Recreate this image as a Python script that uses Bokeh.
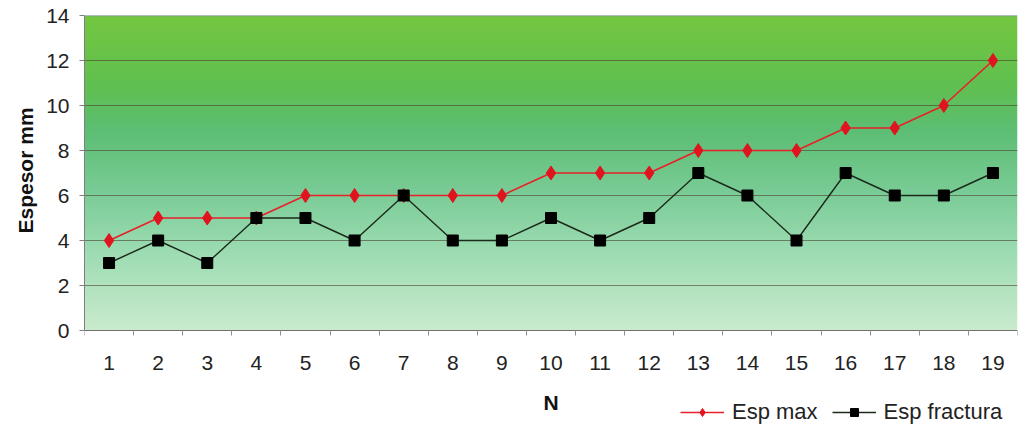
import numpy as np
from bokeh.plotting import figure
from bokeh.models import FixedTicker, Legend, LegendItem, Range1d, Span, Title
from bokeh.embed import file_html
from bokeh.resources import INLINE

n_values = list(range(1, 20))
esp_max = [4, 5, 5, 5, 6, 6, 6, 6, 6, 7, 7, 7, 8, 8, 8, 9, 9, 10, 12]
esp_fractura = [3, 4, 3, 5, 5, 4, 6, 4, 4, 5, 4, 5, 7, 6, 4, 7, 6, 6, 7]
y_ticks = [0, 2, 4, 6, 8, 10, 12, 14]

FONT = "Liberation Sans"
Y_MIN, Y_MAX = 0, 14
Y_LOW = -100 / 22.5  # extra room below the value axis for labels and legend

p = figure(width=1019, height=430, output_backend="svg", toolbar_location=None,
           x_range=Range1d(0.5, 19.5), y_range=Range1d(Y_LOW, Y_MAX),
           min_border_left=84, min_border_right=2, min_border_top=15, min_border_bottom=0)
p.background_fill_color = "white"
p.border_fill_color = "white"
p.outline_line_color = None

# gradient background (value area only)
stops_t = [0.0, 0.26, 0.45, 0.64, 0.78, 1.0]
stops_c = [(202, 235, 206), (155, 219, 177), (120, 203, 148), (92, 190, 115), (96, 192, 80), (116, 199, 64)]
N = 256
t = np.linspace(0, 1, N)
rgb = np.stack([np.interp(t, stops_t, [c[i] for c in stops_c]) for i in range(3)], axis=1).astype(np.uint8)
img = np.zeros((N, 2), dtype=np.uint32)
view = img.view(dtype=np.uint8).reshape((N, 2, 4))
for j in range(2):
    view[:, j, 0] = rgb[:, 0]
    view[:, j, 1] = rgb[:, 1]
    view[:, j, 2] = rgb[:, 2]
    view[:, j, 3] = 255
p.image_rgba(image=[img], x=0.5, y=Y_MIN, dw=19, dh=Y_MAX - Y_MIN, level="image")

# top border of the value area
p.add_layout(Span(location=Y_MAX, dimension="width", line_color="#7f8fa0", line_width=1.5))

# grid
p.xgrid.grid_line_color = None
p.ygrid.ticker = FixedTicker(ticks=y_ticks[1:-1])
p.ygrid.grid_line_color = "#4a4030"
p.ygrid.grid_line_alpha = 0.6
p.ygrid.grid_line_width = 1
p.ygrid.level = "underlay"

# lines
l1 = p.line(n_values, esp_max, line_color="#e8202a", line_width=1.6)
s1 = p.scatter(n_values, esp_max, marker="diamond", size=14, fill_color="#e0141e", line_color="#e0141e")
l2 = p.line(n_values, esp_fractura, line_color="#1c2a1c", line_width=1.4)
s2 = p.scatter(n_values, esp_fractura, marker="square", size=11, fill_color="#000000", line_color="#000000")

# axes
p.xaxis.fixed_location = 0
p.xaxis.ticker = FixedTicker(ticks=n_values, minor_ticks=[i + 0.5 for i in range(0, 20)])
p.xaxis.major_tick_out = 0
p.xaxis.major_tick_in = 0
p.xaxis.minor_tick_out = 5
p.xaxis.minor_tick_in = 0
p.xaxis.minor_tick_line_color = "#909090"
p.xaxis.axis_line_color = "#707070"
p.xaxis.major_label_text_font = FONT
p.xaxis.major_label_text_font_size = "21px"
p.xaxis.major_label_text_color = "#222222"
p.xaxis.major_label_standoff = 20
p.xaxis.axis_label = "N"
p.xaxis.axis_label_text_font = FONT
p.xaxis.axis_label_text_font_size = "21px"
p.xaxis.axis_label_text_font_style = "bold"
p.xaxis.axis_label_text_color = "#111111"
p.xaxis.axis_label_standoff = 18

p.yaxis.bounds = (Y_MIN, Y_MAX)
p.yaxis.ticker = FixedTicker(ticks=y_ticks, minor_ticks=[])
p.yaxis.major_tick_out = 5
p.yaxis.major_tick_in = 0
p.yaxis.major_tick_line_color = "#808080"
p.yaxis.axis_line_color = "#808080"
p.yaxis.major_label_text_font = FONT
p.yaxis.major_label_text_font_size = "21px"
p.yaxis.major_label_text_color = "#222222"
p.yaxis.major_label_standoff = 10

# y axis title centred on the value area (0..14), not the full frame
ytitle = Title(text="Espesor mm", align="left", offset=197, standoff=13,
               text_font=FONT, text_font_size="21px", text_font_style="bold",
               text_color="#111111")
p.add_layout(ytitle, "left")

legend = Legend(items=[LegendItem(label="Esp max", renderers=[l1, s1]),
                       LegendItem(label="Esp fractura", renderers=[l2, s2])],
                orientation="horizontal", location=(596, 5),
                border_line_color=None, background_fill_alpha=0,
                label_text_font=FONT, label_text_font_size="22px", label_text_color="#222222",
                glyph_width=44, spacing=14, label_standoff=8, padding=2, margin=0)
p.add_layout(legend, "center")

open("out.html", "w").write(file_html(p, INLINE))
